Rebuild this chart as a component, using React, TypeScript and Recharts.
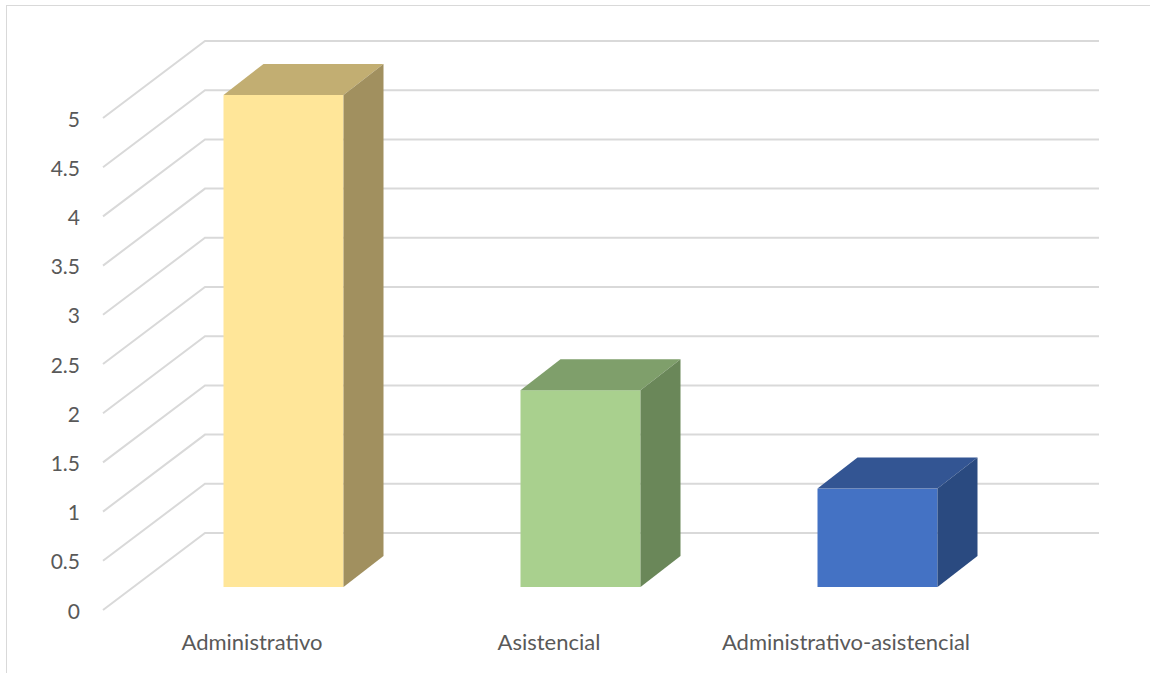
import React from "react";
import { BarChart, Bar, XAxis, YAxis, CartesianGrid } from "recharts";

// categories and values
const categories = ["Administrativo", "Asistencial", "Administrativo-asistencial"];
const counts = [5, 2, 1];
const yTicks = [0, 0.5, 1, 1.5, 2, 2.5, 3, 3.5, 4, 4.5, 5];

const data = categories.map((name, i) => ({ name, value: counts[i] }));

// front / top / side shades for each box
const faces = [
  { front: "#FFE699", top: "#C2AE72", side: "#A1905F" },
  { front: "#A9D08E", top: "#7F9F6B", side: "#6A8759" },
  { front: "#4472C4", top: "#335593", side: "#2A4A80" },
];

const DX = 40;
const DY = 31;
const FONT = "Lato, 'Open Sans', sans-serif";

const Box3D = (props: any) => {
  const { x, y, width: w, height: h, index } = props;
  const c = faces[index % faces.length];
  return (
    <g>
      <rect x={x} y={y} width={w} height={h} fill={c.front} />
      <polygon
        points={`${x},${y} ${x + DX},${y - DY} ${x + w + DX},${y - DY} ${x + w},${y}`}
        fill={c.top}
      />
      <polygon
        points={`${x + w},${y} ${x + w + DX},${y - DY} ${x + w + DX},${y + h - DY} ${x + w},${y + h}`}
        fill={c.side}
      />
    </g>
  );
};

// grid line: diagonal on the side wall, then flat across the back wall
const GridLine = (props: any) => {
  const y = props.y1;
  return (
    <path
      key={props.key ?? y}
      d={`M 103 ${y + 23} L 205 ${y - 54} L 1099 ${y - 54}`}
      fill="none"
      stroke="#D9D9D9"
      strokeWidth={2}
    />
  );
};

const YTick = (props: any) => {
  const { y, payload } = props;
  return (
    <text
      x={80}
      y={y + 23}
      textAnchor="end"
      dominantBaseline="central"
      fill="#595959"
      fontSize={21}
      fontFamily={FONT}
    >
      {payload.value}
    </text>
  );
};

const XTick = (props: any) => {
  const { x, payload } = props;
  return (
    <text
      x={x - 31}
      y={641}
      textAnchor="middle"
      dominantBaseline="central"
      fill="#595959"
      fontSize={22}
      fontFamily={FONT}
    >
      {payload.value}
    </text>
  );
};

export default function App() {
  return (
    <div
      style={{
        position: "absolute",
        left: 0,
        top: 0,
        width: 1150,
        height: 673,
        background: "#fff",
        overflow: "hidden",
      }}
    >
      <div
        style={{
          position: "absolute",
          left: 6,
          top: 5,
          width: 1200,
          height: 700,
          border: "1px solid #D9D9D9",
        }}
      />
      <BarChart
        width={1150}
        height={673}
        data={data}
        margin={{ top: 95, right: 124.5, bottom: 0, left: 0 }}
        barCategoryGap={0}
      >
        <CartesianGrid vertical={false} horizontal={GridLine} />
        <YAxis
          width={134.5}
          domain={[0, 5]}
          ticks={yTicks}
          interval={0}
          axisLine={false}
          tickLine={false}
          tick={YTick}
        />
        <XAxis
          dataKey="name"
          height={86}
          axisLine={false}
          tickLine={false}
          tick={XTick}
          interval={0}
        />
        <Bar dataKey="value" barSize={120} shape={Box3D} isAnimationActive={false} />
      </BarChart>
    </div>
  );
}
